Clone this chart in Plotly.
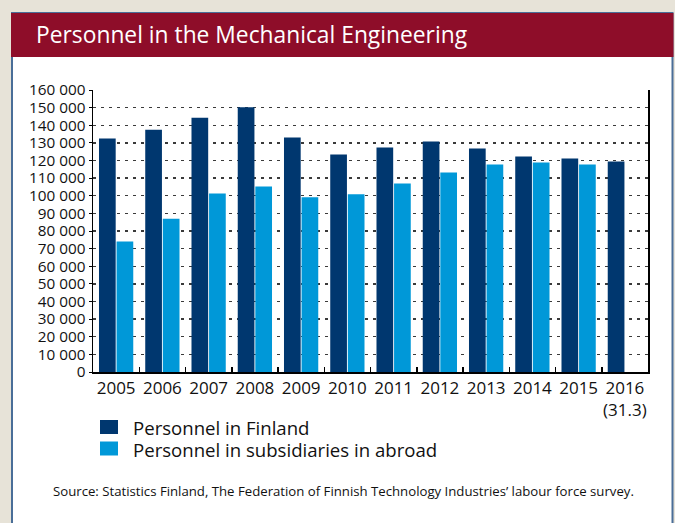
import plotly.graph_objects as go

# ---- data ----
years = ["2005", "2006", "2007", "2008", "2009", "2010", "2011", "2012",
         "2013", "2014", "2015", "2016"]
year_labels = ["2005", "2006", "2007", "2008", "2009", "2010", "2011", "2012",
               "2013", "2014", "2015", "2016<br>(31.3)"]
personnel_finland = [132500, 137500, 144300, 150200, 133000, 123400, 127400,
                     130800, 126800, 122300, 121100, 119400]
personnel_abroad = [74000, 87000, 101300, 105300, 99100, 100800, 107000,
                    113200, 117700, 118900, 117700, None]
y_tick_values = [0, 10000, 20000, 30000, 40000, 50000, 60000, 70000, 80000,
                 90000, 100000, 110000, 120000, 130000, 140000, 150000, 160000]
y_tick_labels = ["0", "10 000", "20 000", "30 000", "40 000", "50 000",
                 "60 000", "70 000", "80 000", "90 000", "100 000", "110 000",
                 "120 000", "130 000", "140 000", "150 000", "160 000"]
series_names = ["Personnel in Finland", "Personnel in subsidiaries in abroad"]
title_text = "Personnel in the Mechanical Engineering"
source_text = ("Source: Statistics Finland, The Federation of Finnish Technology "
               "Industries\u2019 labour force survey.")

# ---- style ----
W, H = 675, 523
DARK = "#00376F"
LIGHT = "#0098D8"
RED = "#8E0D29"
BEIGE = "#E7E3D8"
BORDER = "#4A6E98"
FONT = "Open Sans"


def px(x):
    return x / W


def py(y):
    return 1 - y / H


fig = go.Figure()
fig.add_trace(go.Bar(x=years, y=personnel_finland, name=series_names[0],
                     marker=dict(color=DARK, line=dict(width=0)), showlegend=False))
fig.add_trace(go.Bar(x=years, y=personnel_abroad, name=series_names[1],
                     marker=dict(color=LIGHT, line=dict(width=0)), showlegend=False))

shapes = [
    # white card
    dict(type="rect", xref="paper", yref="paper", x0=px(12), x1=px(672.5),
         y0=py(540), y1=py(13), fillcolor="white",
         line=dict(color=BORDER, width=2), layer="below"),
    # title band
    dict(type="rect", xref="paper", yref="paper", x0=px(11), x1=px(673.5),
         y0=py(57), y1=py(13), fillcolor=RED, line=dict(width=0), layer="below"),
    # legend swatches
    dict(type="rect", xref="paper", yref="paper", x0=px(100), x1=px(118),
         y0=py(434), y1=py(420), fillcolor=DARK, line=dict(width=0)),
    dict(type="rect", xref="paper", yref="paper", x0=px(100), x1=px(118),
         y0=py(455.5), y1=py(441.5), fillcolor=LIGHT, line=dict(width=0)),
]

annotations = [
    dict(text=title_text, xref="paper", yref="paper", x=px(34), y=py(35),
         xanchor="left", yanchor="middle", showarrow=False,
         font=dict(family=FONT, size=22.8, color="white")),
    dict(text=series_names[0], xref="paper", yref="paper", x=px(131), y=py(427),
         xanchor="left", yanchor="middle", showarrow=False,
         font=dict(family=FONT, size=18.6, color="#111")),
    dict(text=series_names[1], xref="paper", yref="paper", x=px(131), y=py(449),
         xanchor="left", yanchor="middle", showarrow=False,
         font=dict(family=FONT, size=18.6, color="#111")),
    dict(text=source_text, xref="paper", yref="paper", x=px(51), y=py(491),
         xanchor="left", yanchor="middle", showarrow=False,
         font=dict(family=FONT, size=13.2, color="#111")),
]

fig.update_layout(
    width=W, height=H, autosize=False,
    margin=dict(l=0, r=0, t=0, b=0, pad=0, autoexpand=False),
    paper_bgcolor=BEIGE, plot_bgcolor="white",
    barmode="group", bargap=0.24, bargroupgap=0.05,
    showlegend=False,
    shapes=shapes, annotations=annotations,
    font=dict(family=FONT, color="#111"),
    xaxis=dict(domain=[px(93), px(648)], type="category",
               tickmode="array", tickvals=years, ticktext=year_labels,
               tickangle=0, automargin=False,
               showline=True, linecolor="black", linewidth=1.5,
               ticks="inside", tickson="boundaries", ticklen=5,
               tickcolor="black", tickwidth=1.5,
               tickfont=dict(family=FONT, size=17, color="#111"),
               showgrid=False, fixedrange=True),
    yaxis=dict(domain=[py(372), py(90)], range=[0, 160000],
               tickmode="array", tickvals=y_tick_values, ticktext=y_tick_labels,
               automargin=False,
               showgrid=True, gridcolor="#3a3a3a", gridwidth=1.3,
               griddash="3px,5px",
               showline=True, mirror=True, linecolor="black", linewidth=1.5,
               ticks="outside", ticklen=3, tickcolor="black",
               tickfont=dict(family=FONT, size=15.3, color="#111"),
               zeroline=False, fixedrange=True),
)

fig.write_html(
    "out.html",
    config={"displayModeBar": False, "staticPlot": True},
    post_script="document.body.style.margin='0';"
                "document.body.style.background='" + BEIGE + "';"
                "document.body.style.overflow='hidden';",
)
